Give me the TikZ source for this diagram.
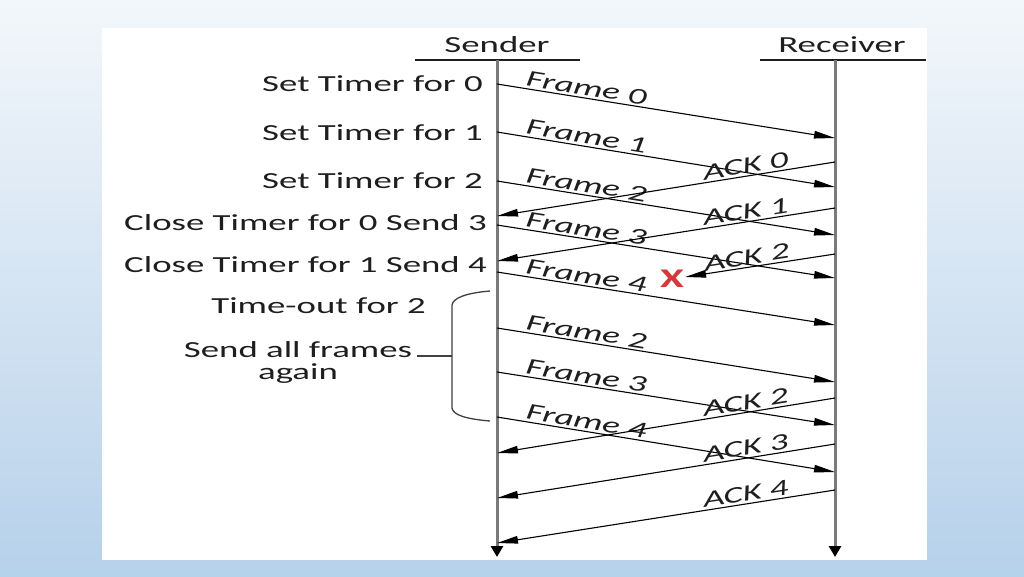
\documentclass[tikz,border=0pt]{standalone}
\usepackage{fontspec}
\setmainfont{Carlito}
\usepackage{graphicx}
\usetikzlibrary{arrows.meta}
\definecolor{bg-top}{HTML}{F3F7FB}
\definecolor{bg-mid}{HTML}{D4E3F0}
\definecolor{bg-bot}{HTML}{B6D1EA}
\definecolor{tl-gray}{HTML}{7A7A7A}
\definecolor{txt-dark}{HTML}{1E1E1E}
\definecolor{lost-red}{HTML}{D33A3A}
\newcommand{\widetxt}[1]{\scalebox{1.6}[1]{#1}}

\begin{document}
\begin{tikzpicture}[
    x=1pt, y=-1pt, % pixel grid of the slide, y going down
    font=\fontsize{23}{26}\selectfont,
    >=latex
  ]

  % Styles for the sliding window chart
  \tikzset{
    event/.style={anchor=base east, inner sep=0pt, text=txt-dark},
    head/.style={anchor=base, inner sep=0pt, text=txt-dark},
    rule/.style={txt-dark, line width=1.2pt},
    timeline/.style={tl-gray, line width=3pt, -{Triangle[width=12pt,length=11pt,color=black]}},
    msg/.style={black, line width=1.1pt, -{Triangle[width=7.5pt,length=21pt]}},
    msglabel/.style={sloped, above, pos=0.26, inner sep=2pt, text=txt-dark, font=\fontsize{23}{26}\selectfont\itshape},
    lost/.style={inner sep=1pt, text=lost-red, font=\fontsize{27}{30}\selectfont\bfseries}
  }

  \useasboundingbox (0,0) rectangle (1024,576);
  \shade[top color=bg-top, middle color=bg-mid, bottom color=bg-bot] (0,0) rectangle (1024,576);
  \fill[white] (102,28) rectangle (927,560);

  % Headers and time axes
  \node (sender)   [head] at (497,52) {\widetxt{Sender}};
  \node (receiver) [head] at (842,52) {\widetxt{Receiver}};
  \draw[rule] (415,60) -- (580,60);
  \draw[rule] (760,60) -- (926,60);

  \coordinate (sTop) at (497,60);
  \coordinate (sBot) at (497,557);
  \coordinate (rTop) at (835,60);
  \coordinate (rBot) at (835,557);
  \draw[timeline] (sTop) -- (sBot);
  \draw[timeline] (rTop) -- (rBot);

  % Sender side events
  \node (set0)   [event] at (483,91)  {\widetxt{Set Timer for 0}};
  \node (set1)   [event] at (483,140) {\widetxt{Set Timer for 1}};
  \node (set2)   [event] at (483,188) {\widetxt{Set Timer for 2}};
  \node (close0) [event] at (487,230) {\widetxt{Close Timer for 0 Send 3}};
  \node (close1) [event] at (487,272) {\widetxt{Close Timer for 1 Send 4}};
  \node (tout)   [event] at (426,313) {\widetxt{Time-out for 2}};
  \node (resend) [text=txt-dark, align=center, inner sep=0pt, font=\fontsize{23}{22}\selectfont] at (298,362)
    {\widetxt{Send all frames}\\\widetxt{again}};

  % Brace round the resent frames
  \draw[black!75, line width=1.3pt] (490,291) .. controls (466,293) and (453,298) .. (452,305)
    -- (452,408) .. controls (453,415) and (466,419) .. (490,421);
  \draw[black!75, line width=1.2pt] (417,356) -- (452,356);

  % End points on the two time axes
  \coordinate (f0s) at (497,84);  \coordinate (f0r) at (835,138);
  \coordinate (f1s) at (497,132); \coordinate (f1r) at (835,187);
  \coordinate (f2s) at (497,181); \coordinate (f2r) at (835,235);
  \coordinate (f3s) at (497,225); \coordinate (f3r) at (835,278);
  \coordinate (f4s) at (497,272); \coordinate (f4r) at (835,325);
  \coordinate (g2s) at (497,328); \coordinate (g2r) at (835,382);
  \coordinate (g3s) at (497,372); \coordinate (g3r) at (835,425);
  \coordinate (g4s) at (497,417); \coordinate (g4r) at (835,472);

  \coordinate (a0r) at (835,162); \coordinate (a0s) at (497,216);
  \coordinate (a1r) at (835,208); \coordinate (a1s) at (497,261);
  \coordinate (a2r) at (835,254);
  \coordinate (b2r) at (835,398); \coordinate (b2s) at (497,453);
  \coordinate (b3r) at (835,444); \coordinate (b3s) at (497,498);
  \coordinate (b4r) at (835,490); \coordinate (b4s) at (497,543);

  % Frames going out
  \draw[msg] (f0s) -- node[msglabel] {\widetxt{Frame 0}} (f0r);
  \draw[msg] (f1s) -- node[msglabel] {\widetxt{Frame 1}} (f1r);
  \draw[msg] (f2s) -- node[msglabel] {\widetxt{Frame 2}} (f2r);
  \draw[msg] (f3s) -- node[msglabel] {\widetxt{Frame 3}} (f3r);
  \draw[msg] (f4s) -- node[msglabel] {\widetxt{Frame 4}} (f4r);
  \draw[msg] (g2s) -- node[msglabel] {\widetxt{Frame 2}} (g2r);
  \draw[msg] (g3s) -- node[msglabel] {\widetxt{Frame 3}} (g3r);
  \draw[msg] (g4s) -- node[msglabel] {\widetxt{Frame 4}} (g4r);

  % Acknowledgements coming back
  \node (lost) [lost] at (672,279) {\widetxt{X}};
  \draw[msg] (a0r) -- node[msglabel] {\widetxt{ACK 0}} (a0s);
  \draw[msg] (a1r) -- node[msglabel] {\widetxt{ACK 1}} (a1s);
  \draw[msg] (a2r) -- node[msglabel, pos=0.58] {\widetxt{ACK 2}} (lost);
  \draw[msg] (b2r) -- node[msglabel] {\widetxt{ACK 2}} (b2s);
  \draw[msg] (b3r) -- node[msglabel] {\widetxt{ACK 3}} (b3s);
  \draw[msg] (b4r) -- node[msglabel] {\widetxt{ACK 4}} (b4s);

\end{tikzpicture}
\end{document}
